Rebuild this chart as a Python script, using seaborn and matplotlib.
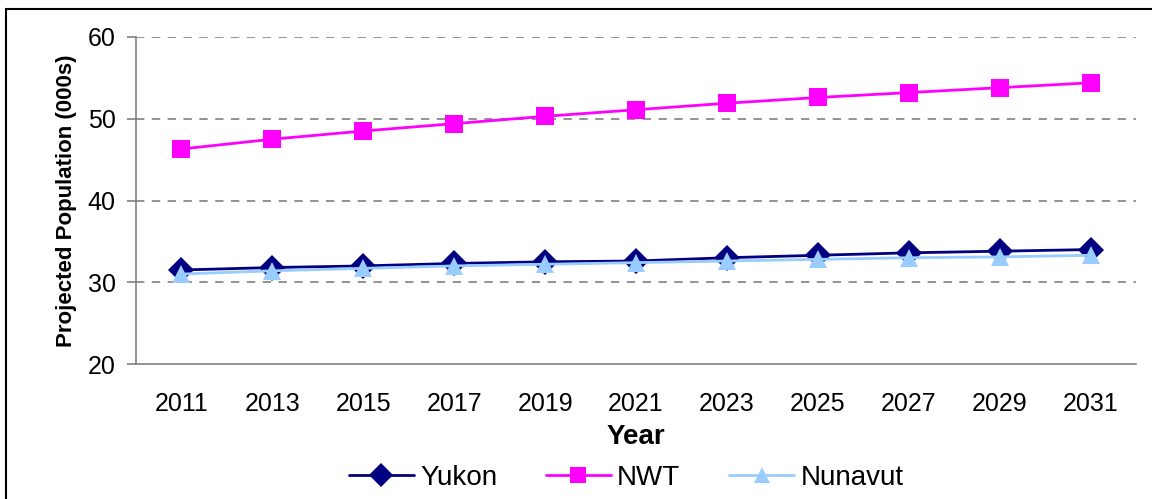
import matplotlib
matplotlib.use("Agg")
import matplotlib.pyplot as plt
import matplotlib.patches as mpatches
import pandas as pd
import seaborn as sns

years = [2011, 2013, 2015, 2017, 2019, 2021, 2023, 2025, 2027, 2029, 2031]
yukon = [31.5, 31.8, 32.0, 32.3, 32.5, 32.6, 33.0, 33.3, 33.6, 33.8, 34.0]
nwt = [46.3, 47.5, 48.5, 49.4, 50.3, 51.1, 51.9, 52.6, 53.2, 53.8, 54.4]
nunavut = [31.0, 31.4, 31.7, 32.0, 32.2, 32.4, 32.6, 32.8, 33.0, 33.1, 33.3]
regions = ["Yukon", "NWT", "Nunavut"]
colors = ["#000080", "#FF00FF", "#99CCFF"]
markers = ["D", "s", "^"]

df = pd.DataFrame({"Year": years * 3,
                   "Population": yukon + nwt + nunavut,
                   "Region": [r for r in regions for _ in years]})

sns.set_style("white")
plt.rcParams["font.family"] = ["Liberation Sans", "DejaVu Sans"]
plt.rcParams["text.color"] = "black"
plt.rcParams["axes.labelcolor"] = "black"
plt.rcParams["xtick.labelcolor"] = "black"
plt.rcParams["ytick.labelcolor"] = "black"

fig = plt.figure(figsize=(11.52, 4.99), dpi=100)
ax = fig.add_axes([136 / 1152, 1 - 364 / 499, 1000 / 1152, 327 / 499])

# figure frame
fig.patches.append(mpatches.Rectangle((6 / 1152, -0.1), 1.2, 1 - 9 / 499 + 0.1,
                                      transform=fig.transFigure, fill=False,
                                      edgecolor="black", linewidth=1.5))

for y in [30, 40, 50, 60]:
    ax.axhline(y, color="#808080", linestyle=(0, (5, 4.5)), linewidth=1.2, zorder=0)

sns.lineplot(data=df, x="Year", y="Population", hue="Region", style="Region",
             hue_order=regions, style_order=regions,
             palette=colors, markers=dict(zip(regions, markers)),
             dashes=False, linewidth=2, markersize=13, markeredgewidth=0,
             ax=ax, legend=False)

ax.set_xlim(2010, 2032)
ax.set_ylim(20, 60)
ax.set_yticks([20, 30, 40, 50, 60])
ax.set_xticks(years)
ax.set_xticks(range(2010, 2033, 2), minor=True)
ax.tick_params(axis="x", which="major", length=0, labelsize=18, pad=20)
ax.tick_params(axis="x", which="minor", length=6, direction="in", color="#808080", width=1.2)
ax.tick_params(axis="y", length=6.5, direction="out", color="#808080", width=1.2,
               labelsize=18, pad=8, left=True)
ax.tick_params(axis="x", bottom=True)

for s in ["top", "right"]:
    ax.spines[s].set_visible(False)
for s in ["left", "bottom"]:
    ax.spines[s].set_color("#808080")
    ax.spines[s].set_linewidth(1.2)

ax.set_xlabel("Year", fontsize=20, fontweight="bold", labelpad=6)
ax.set_ylabel("Projected Population (000s)", fontsize=16, fontweight="bold", labelpad=8)

handles = [plt.Line2D([], [], color=c, marker=m, linewidth=2, markersize=12,
                      markeredgewidth=0) for c, m in zip(colors, markers)]
fig.legend(handles, regions, loc="center", bbox_to_anchor=(626 / 1152, 1 - 478 / 499),
           ncol=3, frameon=False, fontsize=20, handlelength=2.35, columnspacing=1.75,
           handletextpad=0.22, borderaxespad=0, borderpad=0)

fig.savefig("out.png", dpi=100)
